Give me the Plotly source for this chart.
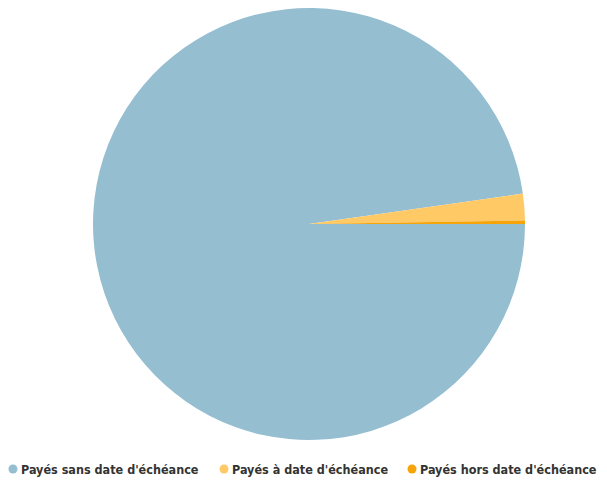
import plotly.graph_objects as go

labels = ["Payés sans date d'échéance", "Payés à date d'échéance", "Payés hors date d'échéance"]
values = [97.75, 2.0, 0.25]
colors = ["#95bed1", "#ffc966", "#f7a30a"]

OFF = 8  # page body margin in the browser
W, H = 607 - OFF, 482 - OFF
cx, cy, r = 309 - OFF, 224 - OFF, 216
legend_x = [13 - OFF, 224 - OFF, 412 - OFF]   # pixel x of each legend circle
legend_y = 469 - OFF

def clamp(v):
    return min(1.0, max(0.0, v))

fig = go.Figure()
fig.add_trace(go.Pie(
    labels=labels, values=values, sort=False, direction="clockwise", rotation=90,
    marker=dict(colors=colors, line=dict(width=0)),
    textinfo="none", hoverinfo="label+percent", showlegend=False,
    domain=dict(x=[clamp((cx - r) / W), clamp((cx + r) / W)],
                y=[clamp(1 - (cy + r) / H), clamp(1 - (cy - r) / H)]),
))

shapes, annotations = [], []
for lab, col, lx in zip(labels, colors, legend_x):
    rad = 4.5
    shapes.append(dict(type="circle", xref="paper", yref="paper",
                       x0=(lx - rad) / W, x1=(lx + rad) / W,
                       y0=1 - (legend_y + rad) / H, y1=1 - (legend_y - rad) / H,
                       fillcolor=col, line=dict(width=0)))
    annotations.append(dict(text=lab, xref="paper", yref="paper", x=(lx + 6) / W, y=1 - legend_y / H,
                            xanchor="left", yanchor="middle", showarrow=False,
                            font=dict(family="DejaVu Sans Condensed", size=12.5, color="#333333", weight="bold")))

fig.update_layout(
    width=W, height=H, margin=dict(l=0, r=0, t=0, b=0),
    paper_bgcolor="white", plot_bgcolor="white", showlegend=False,
    shapes=shapes, annotations=annotations,
)
fig.write_html("out.html")
